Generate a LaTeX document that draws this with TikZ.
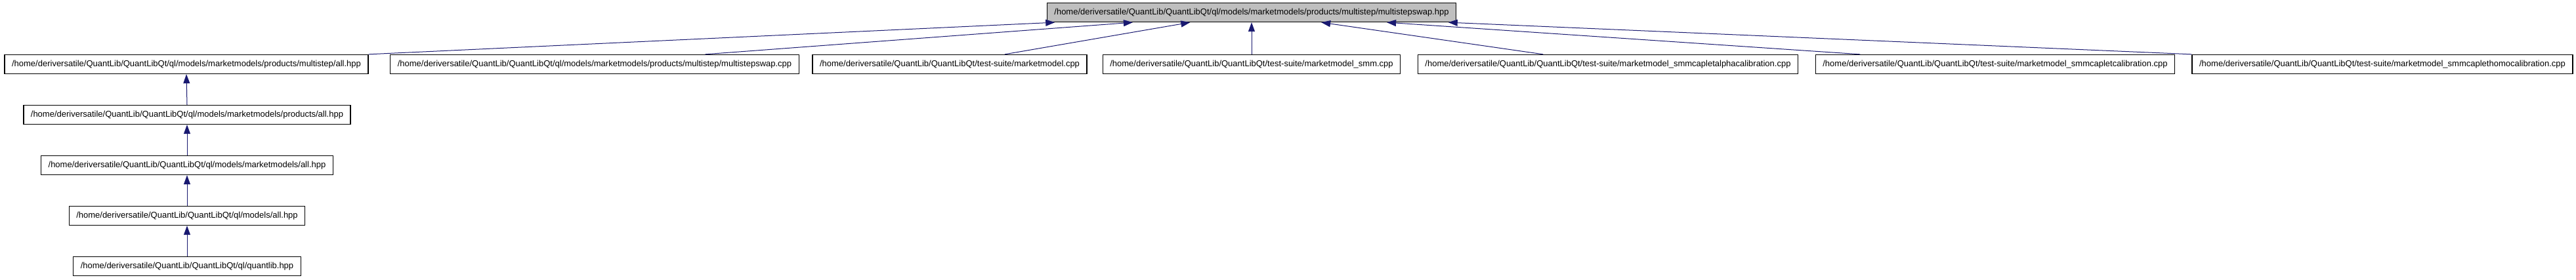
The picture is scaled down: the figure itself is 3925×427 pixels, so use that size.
\documentclass[tikz,border=0pt]{standalone}
\usepackage{fontspec}
\setmainfont{Liberation Sans}
\usetikzlibrary{arrows.meta,calc}

\definecolor{edgeblue}{RGB}{25,25,112}
\definecolor{rootgray}{RGB}{191,191,191}

\begin{document}
\begin{tikzpicture}
[
	file/.style={draw=black,line width=1.3pt,fill=white,minimum height=29pt,inner xsep=11pt,inner ysep=0pt,font=\fontsize{13}{15}\selectfont},
	rootfile/.style={file,fill=rootgray},
	incl/.style={draw=edgeblue,line width=1pt,-{Triangle[length=14pt,width=10pt]}},
	x=1pt,y=-1pt
]
	\useasboundingbox (0,0) rectangle (3925,427);

	% the included header
	\node[rootfile] at (1907,19) (top) {/home/deriversatile/QuantLib/QuantLibQt/ql/models/marketmodels/products/multistep/multistepswap.hpp};

	% files that include it
	\node[file] at (284,98) (msall) {/home/deriversatile/QuantLib/QuantLibQt/ql/models/marketmodels/products/multistep/all.hpp};
	\node[file] at (906,98) (mscpp) {/home/deriversatile/QuantLib/QuantLibQt/ql/models/marketmodels/products/multistep/multistepswap.cpp};
	\node[file] at (1447,98) (mm) {/home/deriversatile/QuantLib/QuantLibQt/test-suite/marketmodel.cpp};
	\node[file] at (1907,98) (smm) {/home/deriversatile/QuantLib/QuantLibQt/test-suite/marketmodel\_smm.cpp};
	\node[file] at (2450,98) (alpha) {/home/deriversatile/QuantLib/QuantLibQt/test-suite/marketmodel\_smmcapletalphacalibration.cpp};
	\node[file] at (3040,98) (caplet) {/home/deriversatile/QuantLib/QuantLibQt/test-suite/marketmodel\_smmcapletcalibration.cpp};
	\node[file] at (3630,98) (homo) {/home/deriversatile/QuantLib/QuantLibQt/test-suite/marketmodel\_smmcaplethomocalibration.cpp};

	% chain of all.hpp files
	\node[file] at (285,175) (prodall) {/home/deriversatile/QuantLib/QuantLibQt/ql/models/marketmodels/products/all.hpp};
	\node[file] at (285,252) (mmall) {/home/deriversatile/QuantLib/QuantLibQt/ql/models/marketmodels/all.hpp};
	\node[file] at (285,329) (modall) {/home/deriversatile/QuantLib/QuantLibQt/ql/models/all.hpp};
	\node[file] at (285,406) (qlib) {/home/deriversatile/QuantLib/QuantLibQt/ql/quantlib.hpp};

	% edges up to the header
	\draw[incl] (msall.north east) -- ($(top.south west)!0.02!(top.south east)$);
	\draw[incl] ($(mscpp.north west)!0.77!(mscpp.north east)$) -- ($(top.south west)!0.21!(top.south east)$);
	\draw[incl] ($(mm.north west)!0.70!(mm.north east)$) -- ($(top.south west)!0.35!(top.south east)$);
	\draw[incl] (smm.north) -- (top.south);
	\draw[incl] ($(alpha.north west)!0.33!(alpha.north east)$) -- ($(top.south west)!0.67!(top.south east)$);
	\draw[incl] ($(caplet.north west)!0.125!(caplet.north east)$) -- ($(top.south west)!0.83!(top.south east)$);
	\draw[incl] (homo.north west) -- ($(top.south west)!0.98!(top.south east)$);

	\draw[incl] (prodall.north) -- (msall.south);
	\draw[incl] (mmall.north) -- (prodall.south);
	\draw[incl] (modall.north) -- (mmall.south);
	\draw[incl] (qlib.north) -- (modall.south);

\end{tikzpicture}
\end{document}
